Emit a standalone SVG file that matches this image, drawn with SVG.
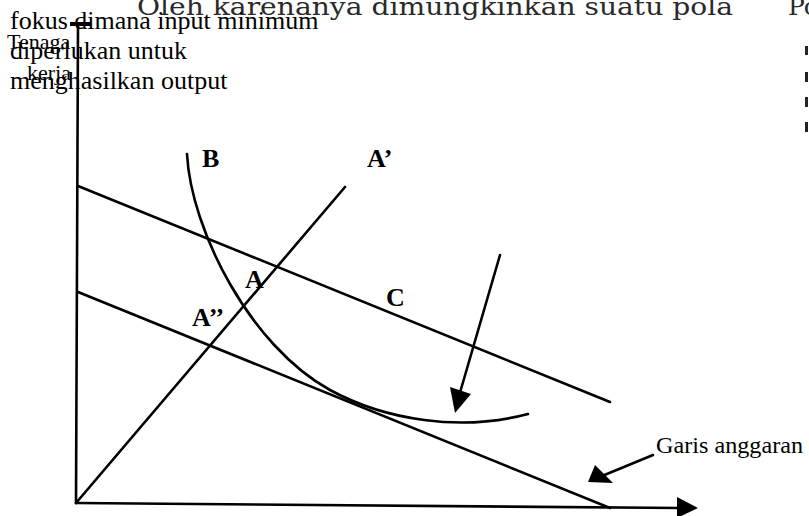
<svg xmlns="http://www.w3.org/2000/svg" width="809" height="516" viewBox="0 0 809 516">
<style>
.ln{fill:none;stroke:#000;stroke-width:2.6;stroke-linecap:round}
.lbl{font-family:"Liberation Serif",serif;font-weight:bold;font-size:26px;fill:#000}
.txt{font-family:"Liberation Serif",serif;fill:#000}
.bg{font-family:"DejaVu Serif",serif;fill:#2a2a2a;font-size:25px}
.hd{fill:#000;stroke:none}
</style>
<rect width="809" height="516" fill="#fff"/>
<g id="page-text">
<text class="bg" x="137" y="15" textLength="596" lengthAdjust="spacingAndGlyphs">Oleh karenanya dimungkinkan suatu pola</text>
<text class="bg" x="788" y="15">Po</text>
<rect x="805" y="46" width="3" height="9" fill="#222"/>
<rect x="805" y="72" width="3" height="10" fill="#222"/>
<rect x="805" y="97" width="3" height="10" fill="#222"/>
<rect x="805" y="122" width="3" height="10" fill="#222"/>
</g>
<g id="note">
<text class="txt" font-size="26" x="10" y="29">fokus dimana input minimum</text>
<text class="txt" font-size="26" x="10" y="59">diperlukan untuk</text>
<text class="txt" font-size="26" x="10" y="89">menghasilkan output</text>
</g>
<g id="axis-label">
<text class="txt" font-size="22" x="7" y="49">Tenaga</text>
<text class="txt" font-size="22" x="27" y="80">kerja</text>
</g>
<g id="connectors">
<line class="ln" x1="78" y1="24" x2="76" y2="503"/>
<line x1="70" y1="24" x2="91" y2="24" stroke="#000" stroke-width="4"/>
<line class="ln" x1="76" y1="503" x2="680" y2="508"/>
<polygon class="hd" points="698,508 677,497 677,518"/>
<line class="ln" x1="78" y1="186" x2="610" y2="402"/>
<line class="ln" x1="78" y1="292" x2="610" y2="508"/>
<line class="ln" x1="76" y1="503" x2="345" y2="187"/>
<path class="ln" d="M187,154 C191,230 250,346 330,390 C385,420 460,432 528,414"/>
<line class="ln" x1="500" y1="255" x2="459" y2="396"/>
<polygon class="hd" points="455,413 450,387 471,394"/>
<line class="ln" x1="653" y1="455" x2="602" y2="476"/>
<polygon class="hd" points="588,482 595,465 613,483"/>
</g>
<g id="label-B"><text class="lbl" x="202" y="167">B</text></g>
<g id="label-A1"><text class="lbl" x="367" y="167">A’</text></g>
<g id="label-A"><text class="lbl" x="245" y="288">A</text></g>
<g id="label-A2"><text class="lbl" x="192" y="326">A’’</text></g>
<g id="label-C"><text class="lbl" x="386" y="306">C</text></g>
<g id="label-garis"><text class="txt" font-size="24" x="656" y="453" textLength="147" lengthAdjust="spacingAndGlyphs">Garis anggaran</text></g>
</svg>
